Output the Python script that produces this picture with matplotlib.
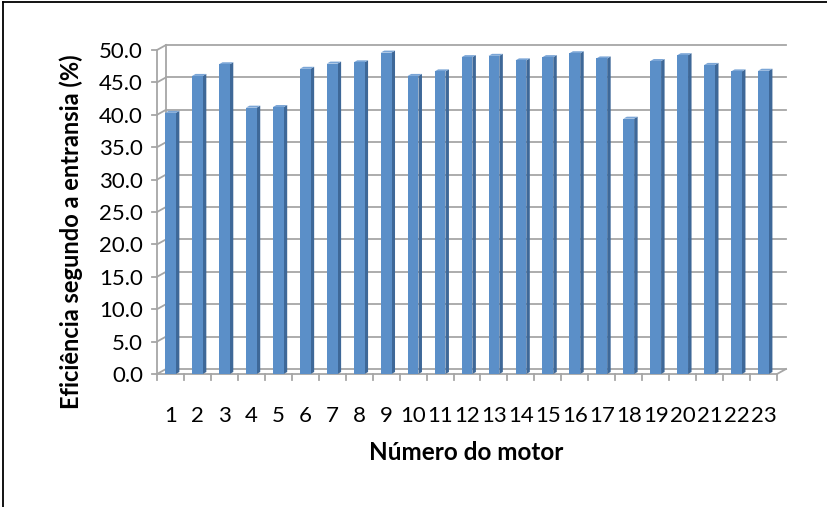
import matplotlib
matplotlib.use("Agg")
import matplotlib.pyplot as plt
from matplotlib.patches import Polygon
from matplotlib.lines import Line2D
from matplotlib.transforms import IdentityTransform
import numpy as np

# data
motores = [str(i) for i in range(1, 24)]
eficiencia = [40.3, 46.0, 47.8, 41.1, 41.2, 47.1, 47.9, 48.1, 49.6, 46.0, 46.7, 48.9,
              49.1, 48.4, 48.9, 49.5, 48.7, 39.4, 48.3, 49.2, 47.7, 46.7, 46.8]
y_ticks = np.arange(0, 50.1, 5)
y_labels = ["%.1f" % v for v in y_ticks]

plt.rcParams['font.family'] = ['Lato', 'DejaVu Sans']

W, H = 827, 507
fig = plt.figure(figsize=(W / 100, H / 100), dpi=100)
ax = fig.add_axes([157 / W, (H - 374) / H, 620 / W, 324 / H])
x = np.arange(1, len(motores) + 1)
ax.set_xlim(0.5, len(motores) + 0.5)
ax.set_ylim(0, 50)
for s in ax.spines.values():
    s.set_visible(False)

grid_c = '#a6a6a6'
front_c = '#5b8fc8'
side_c = '#3e6898'
top_c = '#7aa5d6'
dx, dy = 9, 5          # depth of the back wall, pixels
bdx, bdy = 3.5, 2      # depth of one bar, pixels

ident = IdentityTransform()


def px(xd, yd):
    return ax.transData.transform((xd, yd))


def line(p0, p1, **kw):
    ax.add_artist(Line2D([p0[0], p1[0]], [p0[1], p1[1]], transform=ident,
                         color=grid_c, lw=1.3, clip_on=False, **kw))


x0, x1 = 0.5, len(motores) + 0.5
# back wall gridlines and left wall
for yv in y_ticks:
    a = px(x0, yv)
    b = px(x1, yv)
    line(a + [dx, dy], b + [dx, dy], zorder=1)
    line(a, a + [dx, dy], zorder=1)
    line(a, a - [5, 0], zorder=1)
line(px(x0, 0), px(x0, 50), zorder=1)
line(px(x0, 0) + [dx, dy], px(x0, 50) + [dx, dy], zorder=1)
# floor
line(px(x0, 0), px(x1, 0), zorder=2)
line(px(x1, 0), px(x1, 0) + [dx, dy], zorder=2)
for xv in np.arange(x0, x1 + 0.1, 1):
    p = px(xv, 0)
    line(p, p - [0, 6], zorder=2)

# bars: front face + side + top
bw = 0.4
ax.bar(x, eficiencia, width=bw, color=front_c, zorder=4)
for xi, h in zip(x, eficiencia):
    br = px(xi + bw / 2, 0)
    tl = px(xi - bw / 2, h)
    tr = px(xi + bw / 2, h)
    ax.add_patch(Polygon([br, br + [bdx, bdy], tr + [bdx, bdy], tr], closed=True,
                         transform=ident, color=side_c, zorder=3, lw=0))
    ax.add_patch(Polygon([tl, tr, tr + [bdx, bdy], tl + [bdx, bdy]], closed=True,
                         transform=ident, color=top_c, zorder=3, lw=0))

ax.set_yticks(y_ticks)
ax.set_yticklabels(y_labels)
ax.set_xticks(x)
ax.set_xticklabels(motores)
ax.tick_params(axis='both', length=0, labelsize=16, colors='black')
ax.tick_params(axis='y', pad=10)
ax.tick_params(axis='x', pad=23)

fig.text(466 / W, 1 - 452 / H, "Número do motor", ha='center', va='center',
         fontsize=17.5, fontweight='bold')
fig.text(71 / W, 1 - 232 / H, "Eficiência segundo a entransia (%)", ha='center',
         va='center', rotation=90, fontsize=17, fontweight='bold')

# outer frame (top and left edges visible)
fig.add_artist(Line2D([3 / W, 1], [1 - 2 / H, 1 - 2 / H], transform=fig.transFigure,
                      color='black', lw=1.3))
fig.add_artist(Line2D([3 / W, 3 / W], [1 - 2 / H, 0], transform=fig.transFigure,
                      color='black', lw=1.3))

fig.savefig("out.png", dpi=100)
